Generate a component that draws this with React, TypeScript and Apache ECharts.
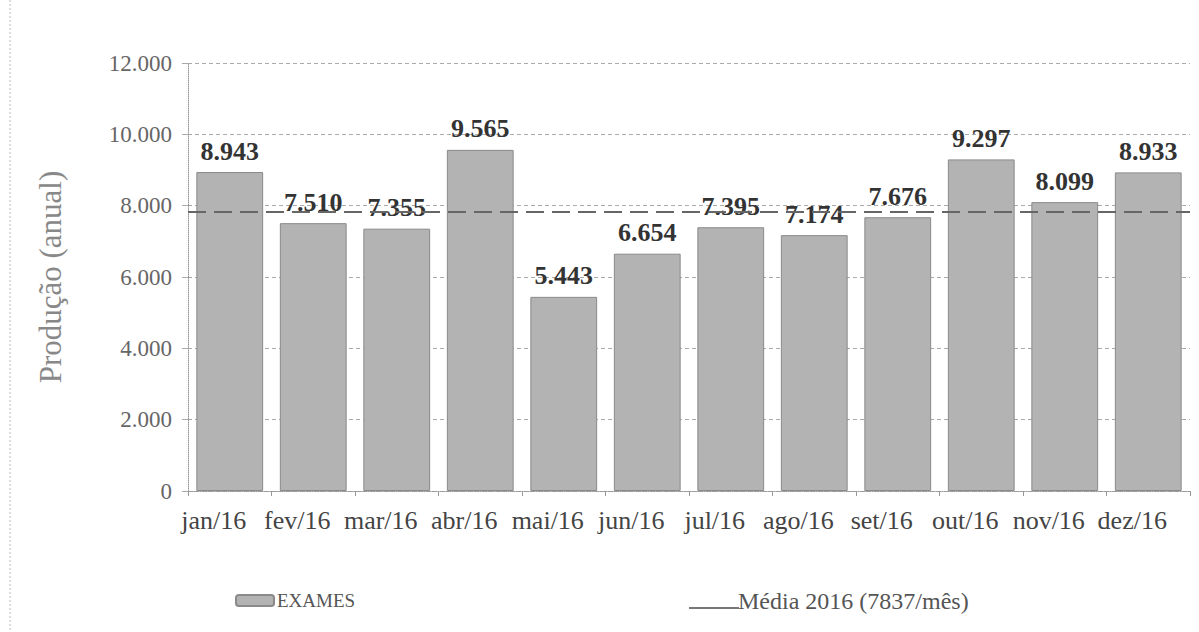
import React, { useEffect, useRef } from "react";
import * as echarts from "echarts";

const categories = ["jan/16", "fev/16", "mar/16", "abr/16", "mai/16", "jun/16", "jul/16", "ago/16", "set/16", "out/16", "nov/16", "dez/16"];
const exames = [8943, 7510, 7355, 9565, 5443, 6654, 7395, 7174, 7676, 9297, 8099, 8933];
const media = 7837;
const seriesNames = ["EXAMES", "Média 2016 (7837/mês)"];
const yAxisName = "Produção (anual)";

const fmt = (v: number) => {
  const s = String(Math.round(v));
  return s.replace(/\B(?=(\d{3})+(?!\d))/g, ".");
};

const FONT = "Liberation Serif";

export default function App() {
  const ref = useRef<HTMLDivElement>(null);
  useEffect(() => {
    document.body.style.margin = "0";
    const chart = echarts.init(ref.current!, null, { renderer: "svg" });
    chart.setOption({
      animation: false,
      backgroundColor: "#ffffff",
      textStyle: { fontFamily: FONT },
      grid: { left: 188, right: 9, top: 63, bottom: 141, containLabel: false },
      legend: [
        {
          data: [seriesNames[0]],
          left: 230,
          top: 586,
          itemWidth: 38,
          itemHeight: 11,
          itemGap: 3,
          textStyle: { fontFamily: FONT, fontSize: 19, color: "#555", padding: [0, 0, 0, -2] },
        },
        {
          data: [{
            name: seriesNames[1],
            icon: "path://M0,0 L50,0 L50,0.01 L0,0.01 Z M0,14 L50,14 L50,16 L0,16 Z",
            itemStyle: { color: "#777" },
          }],
          left: 684,
          top: 584,
          itemWidth: 50,
          itemHeight: 16,
          textStyle: { fontFamily: FONT, fontSize: 24, color: "#555", padding: [0, 0, 0, -6] },
        },
      ],
      xAxis: {
        type: "category",
        data: categories,
        axisLine: { show: true, lineStyle: { color: "#999", type: "dotted" } },
        axisTick: { show: true, alignWithLabel: false, length: 5, lineStyle: { color: "#999" } },
        axisLabel: { fontFamily: FONT, fontSize: 26, color: "#444", margin: 16, interval: 0, padding: [0, 32, 0, 0] },
      },
      yAxis: {
        type: "value",
        min: 0,
        max: 12000,
        interval: 2000,
        name: yAxisName,
        nameLocation: "middle",
        nameGap: 122,
        nameTextStyle: { fontFamily: FONT, fontSize: 31, color: "#888" },
        axisLine: { show: true, lineStyle: { color: "#999", type: "dotted" } },
        axisTick: { show: true, length: 6, lineStyle: { color: "#aaa" } },
        axisLabel: { fontFamily: FONT, fontSize: 23, color: "#666", margin: 16, formatter: (v: number) => fmt(v) },
        splitLine: { show: true, lineStyle: { color: "#aaa", type: [4, 3], width: 1 } },
      },
      series: [
        {
          name: seriesNames[1],
          type: "line",
          data: [],
          itemStyle: { color: "#777" },
          lineStyle: { color: "#777" },
          markLine: {
            silent: true,
            symbol: "none",
            label: { show: false },
            lineStyle: { color: "#666", type: [18, 8], width: 2 },
            data: [{ yAxis: media }],
          },
          z: 1,
        },
        {
          name: seriesNames[0],
          type: "bar",
          data: exames,
          barCategoryGap: "20%",
          itemStyle: { color: "#b3b3b3", borderColor: "#8a8a8a", borderWidth: 1 },
          label: {
            show: true,
            position: "top",
            distance: 8,
            fontFamily: FONT,
            fontSize: 26,
            fontWeight: "bold",
            color: "#333",
            formatter: (p: any) => fmt(p.value),
          },
          z: 2,
        },
      ],
      graphic: [
        {
          type: "line",
          shape: { x1: 10, y1: 0, x2: 10, y2: 632 },
          style: { stroke: "#bbb", lineWidth: 1, lineDash: [2, 2] },
        },
      ],
    });
    return () => chart.dispose();
  }, []);
  return <div ref={ref} style={{ width: 1199, height: 632 }} />;
}
